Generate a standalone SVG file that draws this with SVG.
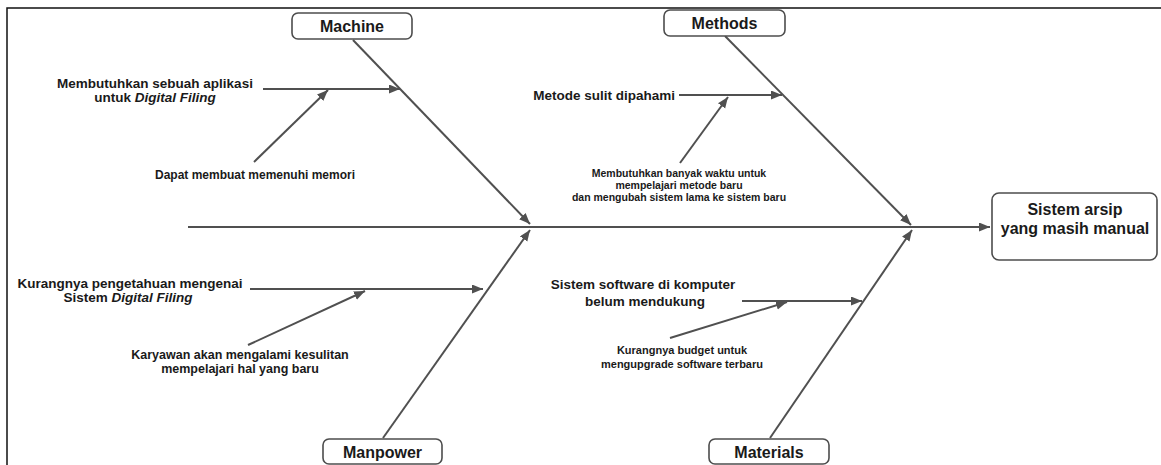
<svg xmlns="http://www.w3.org/2000/svg" width="1161" height="465" viewBox="0 0 1161 465">
<style>
.frame{fill:none;stroke:#111;stroke-width:1.5}
.box{fill:#fff;stroke:#4d4d4d;stroke-width:1.6}
.bone{fill:none;stroke:#505050;stroke-width:2;marker-end:url(#ah)}
.t{font-family:"Liberation Sans",Arial,sans-serif;font-weight:bold;fill:#1a1a1a}
.h{font-size:16px;text-anchor:middle}
.m{font-size:13.5px}
.s{font-size:12px;text-anchor:middle}
.s2{font-size:12.5px;text-anchor:middle}
.s3{font-size:11px;text-anchor:middle}
.xs{font-size:10.5px;text-anchor:middle}
.c{text-anchor:middle}
.e{text-anchor:end}
.i{font-style:italic}
</style>
<defs>
<marker id="ah" markerWidth="12" markerHeight="10" refX="11" refY="4.5" orient="auto" markerUnits="userSpaceOnUse">
<path d="M0,0 L11,4.5 L0,9 z" fill="#505050"/>
</marker>
</defs>
<rect x="0" y="0" width="1161" height="465" fill="#fff"/>
<path class="frame" d="M7,465 V8 H1161"/>
<g id="connectors">
<line class="bone" x1="188" y1="227" x2="990" y2="227"/>
<line class="bone" x1="353" y1="40" x2="530" y2="224"/>
<line class="bone" x1="725" y1="36" x2="911" y2="225"/>
<line class="bone" x1="383" y1="438" x2="530" y2="230"/>
<line class="bone" x1="770" y1="438" x2="912" y2="230"/>
<line class="bone" x1="263" y1="89" x2="400" y2="89"/>
<line class="bone" x1="254" y1="162" x2="328" y2="90"/>
<line class="bone" x1="679" y1="95" x2="782" y2="95"/>
<line class="bone" x1="680" y1="163" x2="728" y2="97"/>
<line class="bone" x1="250" y1="289" x2="483" y2="289"/>
<line class="bone" x1="248" y1="345" x2="365" y2="291"/>
<line class="bone" x1="742" y1="301" x2="862" y2="301"/>
<line class="bone" x1="670" y1="338" x2="787" y2="302"/>
</g>
<g id="machine">
<rect class="box" x="292" y="13" width="120" height="26" rx="6"/>
<text class="t h" x="352" y="32">Machine</text>
</g>
<g id="methods">
<rect class="box" x="664" y="10" width="121" height="26" rx="6"/>
<text class="t h" x="724.5" y="29">Methods</text>
</g>
<g id="manpower">
<rect class="box" x="323" y="439" width="119" height="25" rx="6"/>
<text class="t h" x="382.5" y="458">Manpower</text>
</g>
<g id="materials">
<rect class="box" x="709" y="439" width="120" height="25" rx="6"/>
<text class="t h" x="769" y="458">Materials</text>
</g>
<g id="effect">
<rect class="box" x="992" y="193" width="165" height="67" rx="7"/>
<text class="t h" x="1075" y="215">Sistem arsip</text>
<text class="t h" x="1075" y="234">yang masih manual</text>
</g>
<g id="machine-causes">
<text class="t m c" x="155" y="88">Membutuhkan sebuah aplikasi</text>
<text class="t m c" x="155" y="102">untuk <tspan class="i">Digital Filing</tspan></text>
<text class="t s" x="255" y="179">Dapat membuat memenuhi memori</text>
</g>
<g id="methods-causes">
<text class="t m e" x="675" y="99.5">Metode sulit dipahami</text>
<text class="t xs" x="679" y="176.5">Membutuhkan banyak waktu untuk</text>
<text class="t xs" x="679" y="188.5">mempelajari metode baru</text>
<text class="t xs" x="679" y="200.5">dan mengubah sistem lama ke sistem baru</text>
</g>
<g id="manpower-causes">
<text class="t m c" x="130" y="287.5">Kurangnya pengetahuan mengenai</text>
<text class="t m c" x="128" y="301.5">Sistem <tspan class="i">Digital Filing</tspan></text>
<text class="t s2" x="240" y="359">Karyawan akan mengalami kesulitan</text>
<text class="t s2" x="240" y="373">mempelajari hal yang baru</text>
</g>
<g id="materials-causes">
<text class="t m c" x="643" y="288.5">Sistem software di komputer</text>
<text class="t m c" x="645" y="305.5">belum mendukung</text>
<text class="t s3" x="682" y="354">Kurangnya budget untuk</text>
<text class="t s3" x="682" y="368">mengupgrade software terbaru</text>
</g>
</svg>
